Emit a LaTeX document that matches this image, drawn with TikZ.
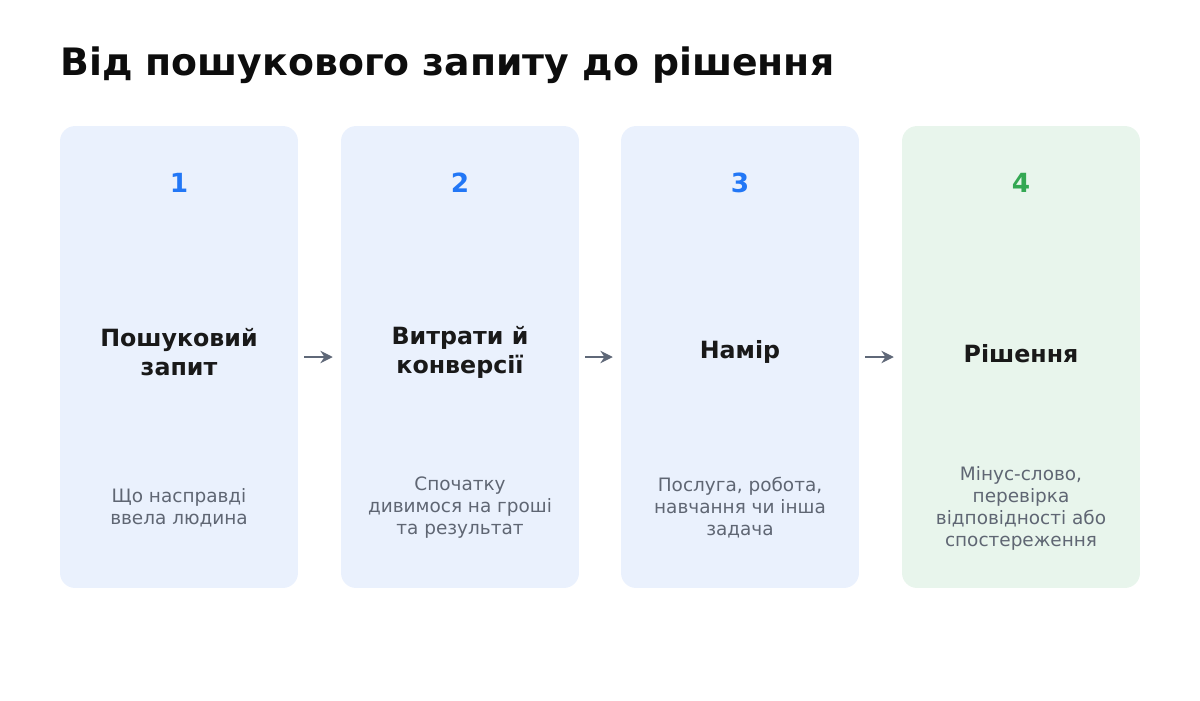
\documentclass[tikz,border=0pt]{standalone}
\usepackage{fontspec}
\setmainfont{DejaVu Sans}
\usetikzlibrary{arrows.meta, positioning}
\definecolor{stepblue}{HTML}{EAF1FD}
\definecolor{stepgreen}{HTML}{E8F5EC}
\definecolor{numblue}{HTML}{2277F6}
\definecolor{numgreen}{HTML}{34A853}
\definecolor{textgray}{HTML}{5F6673}
\definecolor{arrowgray}{HTML}{5F6878}
\begin{document}
\begin{tikzpicture}[
    x=0.02cm, y=-0.02cm,
    box/.style={rectangle, rounded corners=0.3cm, minimum width=4.76cm, minimum height=9.24cm, inner sep=0pt},
    num/.style={font=\fontsize{15}{18}\selectfont\bfseries},
    head/.style={align=center, font=\fontsize{13.5}{16.5}\selectfont\bfseries, text=black!90},
    desc/.style={align=center, font=\fontsize{10.5}{12.5}\selectfont, text=textgray},
    arrow/.style={-{Stealth[length=7pt,width=7pt]}, line width=1.3pt, arrowgray, shorten <=3.4pt, shorten >=4.5pt}
]
\useasboundingbox (0,0) rectangle (1200,700);
\node[anchor=base west, inner sep=0pt, font=\fontsize{21.5}{26}\selectfont\bfseries, text=black!95] (title) at (60,75) {Від пошукового запиту до рішення};

% steps
\node[box, fill=stepblue] (s1) at (179,357) {};
\node[box, fill=stepblue] (s2) at (460,357) {};
\node[box, fill=stepblue] (s3) at (740,357) {};
\node[box, fill=stepgreen] (s4) at (1021,357) {};

\node[num, text=numblue] (n1) at (179,183) {1};
\node[num, text=numblue] (n2) at (460,183) {2};
\node[num, text=numblue] (n3) at (740,183) {3};
\node[num, text=numgreen] (n4) at (1021,183) {4};

\node[head] (h1) at (179,352) {Пошуковий\\запит};
\node[head] (h2) at (460,352) {Витрати й\\конверсії};
\node[head] (h3) at (740,352) {Намір};
\node[head] (h4) at (1021,354) {Рішення};

\node[desc] (d1) at (179,508) {Що насправді\\ввела людина};
\node[desc] (d2) at (460,508) {Спочатку\\дивимося на гроші\\та результат};
\node[desc] (d3) at (740,508) {Послуга, робота,\\навчання чи інша\\задача};
\node[desc] (d4) at (1021,508) {Мінус-слово,\\перевірка\\відповідності або\\спостереження};

\draw[arrow] (s1.east) -- (s2.west);
\draw[arrow] (s2.east) -- (s3.west);
\draw[arrow] (s3.east) -- (s4.west);
\end{tikzpicture}
\end{document}
